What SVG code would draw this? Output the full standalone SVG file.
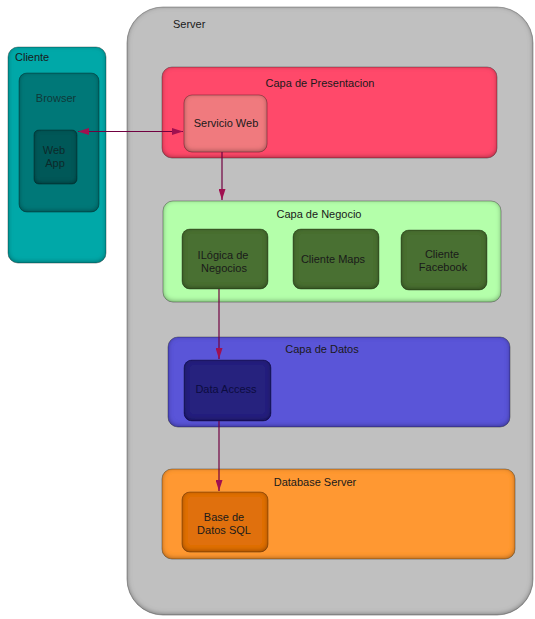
<svg xmlns="http://www.w3.org/2000/svg" width="535" height="619" viewBox="0 0 535 619">
<style>
text{font-family:"Liberation Sans",Arial,sans-serif;font-size:11px;fill:#1a1a1a}
.c{text-anchor:middle}
.box{filter:url(#bev);stroke:#000;stroke-opacity:0.25;stroke-width:1}
.conn{stroke:#700040;stroke-width:1.2;fill:none}
</style>
<defs>
<filter id="bev" x="-20%" y="-20%" width="140%" height="140%">
<feComponentTransfer in="SourceAlpha" result="inv"><feFuncA type="table" tableValues="1 0"/></feComponentTransfer>
<feGaussianBlur in="inv" stdDeviation="2.5" result="blur"/>
<feOffset in="blur" dx="0" dy="-0.8" result="ob"/>
<feFlood flood-color="#000" flood-opacity="0.75" result="col"/>
<feComposite in="col" in2="ob" operator="in" result="sh"/>
<feComposite in="sh" in2="SourceAlpha" operator="in" result="ish"/>
<feMerge><feMergeNode in="SourceGraphic"/><feMergeNode in="ish"/></feMerge>
</filter>
<marker id="ah" viewBox="0 0 11 7" refX="11" refY="3.5" markerWidth="11" markerHeight="7" markerUnits="userSpaceOnUse" orient="auto-start-reverse">
<path d="M0,0 L11,3.5 L0,7 z" fill="#a01050"/>
</marker>
</defs>

<g id="server">
<rect class="box" x="127" y="7" width="406" height="608" rx="36" fill="#c0c0c0"/>
<text x="173" y="28">Server</text>
</g>

<g id="cliente">
<rect class="box" x="8" y="47" width="98" height="216" rx="10" fill="#00a8a8"/>
<text x="15" y="61">Cliente</text>
</g>

<g id="browser">
<rect class="box" x="19" y="73" width="80" height="139" rx="8" fill="#007878"/>
<text class="c" x="56" y="102" style="fill:#103838">Browser</text>
</g>

<g id="webapp">
<rect class="box" x="34" y="130" width="43" height="54" rx="5" fill="#005858"/>
<text class="c" x="54" y="154" style="fill:#0c2a2a">Web</text>
<text class="c" x="55" y="167" style="fill:#0c2a2a">App</text>
</g>

<g id="presentacion">
<rect class="box" x="162" y="67" width="335" height="91" rx="10" fill="#ff4a6a"/>
<text class="c" x="320" y="87">Capa de Presentacion</text>
</g>

<g id="servicioweb">
<rect class="box" x="184" y="95" width="83" height="57" rx="8" fill="#f07a7e"/>
<text class="c" x="226" y="127">Servicio Web</text>
</g>

<g id="negocio">
<rect class="box" x="163" y="201" width="338" height="101" rx="10" fill="#b4ffaa"/>
<text class="c" x="319" y="218">Capa de Negocio</text>
</g>

<g id="logica">
<rect class="box" x="182" y="229" width="86" height="60" rx="8" fill="#4a7030"/>
<text class="c" x="223" y="259">ILógica de</text>
<text class="c" x="224" y="272">Negocios</text>
</g>

<g id="maps">
<rect class="box" x="293" y="229" width="86" height="60" rx="8" fill="#4a7030"/>
<text class="c" x="333" y="263">Cliente Maps</text>
</g>

<g id="facebook">
<rect class="box" x="401" y="230" width="86" height="60" rx="8" fill="#4a7030"/>
<text class="c" x="442" y="258">Cliente</text>
<text class="c" x="443" y="271">Facebook</text>
</g>

<g id="datos">
<rect class="box" x="168" y="337" width="342" height="90" rx="10" fill="#5a55d8"/>
<text class="c" x="322" y="353">Capa de Datos</text>
</g>

<g id="dataaccess">
<rect class="box" x="184" y="360" width="87" height="61" rx="8" fill="#26207e"/>
<text class="c" x="226" y="393" style="fill:#0c0c40">Data Access</text>
</g>

<g id="dbserver">
<rect class="box" x="162" y="469" width="353" height="90" rx="10" fill="#ff9830"/>
<text class="c" x="315" y="486">Database Server</text>
</g>

<g id="basedatos">
<rect class="box" x="182" y="492" width="86" height="60" rx="8" fill="#e07008"/>
<text class="c" x="224" y="521">Base de</text>
<text class="c" x="224" y="534">Datos SQL</text>
</g>

<g id="connectors">
<line class="conn" x1="78" y1="131.5" x2="183" y2="131.5" marker-start="url(#ah)" marker-end="url(#ah)"/>
<line class="conn" x1="222" y1="152" x2="222" y2="200" marker-end="url(#ah)"/>
<line class="conn" x1="219" y1="289" x2="219" y2="359" marker-end="url(#ah)"/>
<line class="conn" x1="219" y1="421" x2="219" y2="491" marker-end="url(#ah)"/>
</g>
</svg>
